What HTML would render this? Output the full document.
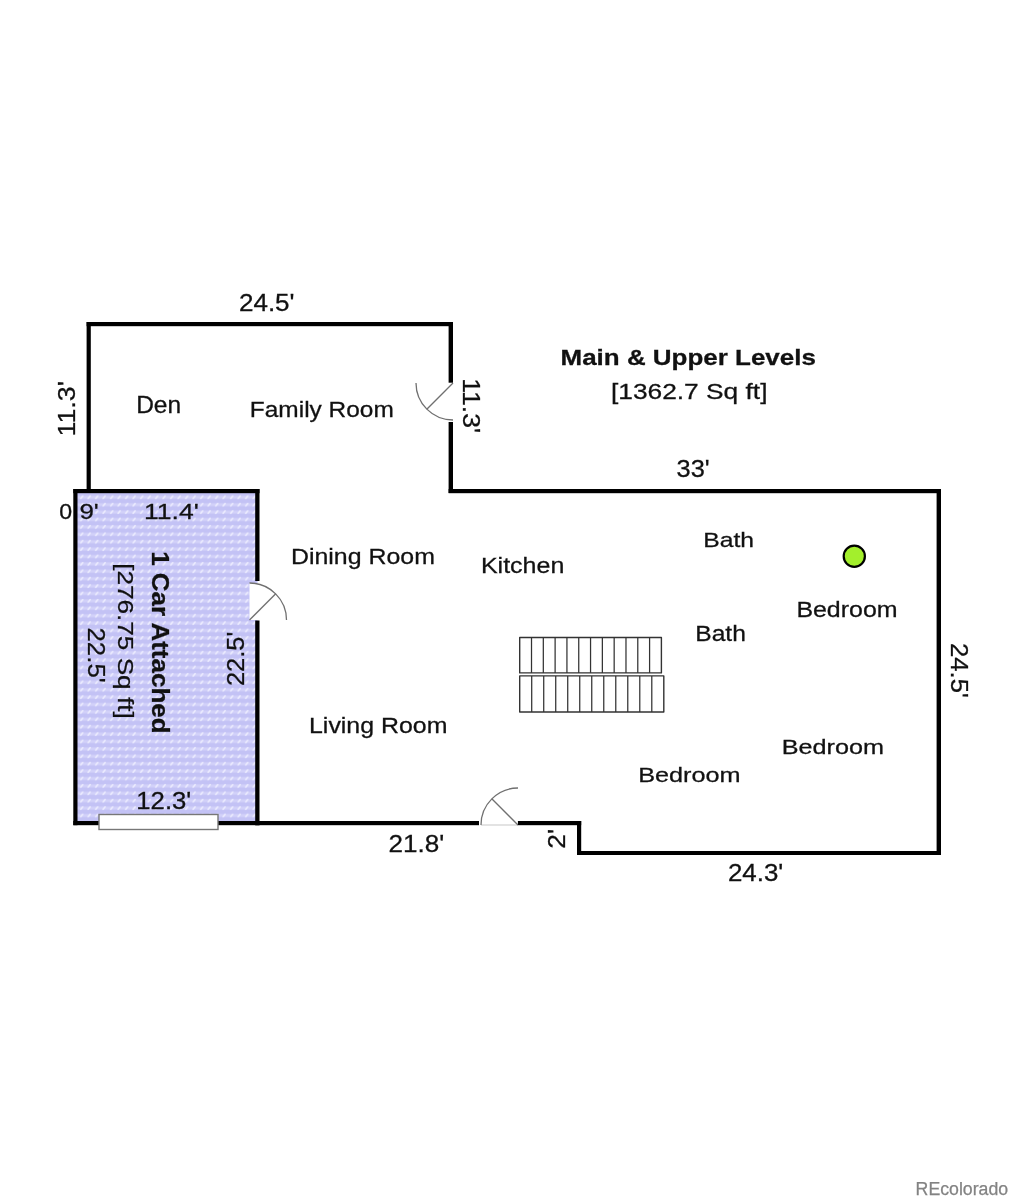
<!DOCTYPE html>
<html><head><meta charset="utf-8"><style>
html,body{margin:0;padding:0;background:#fff;}
svg{display:block;will-change:transform;}
text{font-family:"Liberation Sans", sans-serif;fill:#111;}
</style></head><body>
<svg width="1015" height="1200" viewBox="0 0 1015 1200">
<rect width="1015" height="1200" fill="#fff"/>

<defs>
<pattern id="gp" x="2.95" y="5.2" width="7.5" height="7.4" patternUnits="userSpaceOnUse">
<rect width="7.5" height="7.4" fill="#c3c2f5"/>
<rect y="2.2" width="7.5" height="3" fill="#d2d1f9"/>
<path d="M2.8,4.9 L4.7,2.5" stroke="#eeeeff" stroke-width="1.5" stroke-linecap="round"/>
</pattern>
</defs>
<rect x="75" y="491" width="182.5" height="332" fill="url(#gp)"/>


<path d="M416,383 A37,37 0 0 0 453,420" fill="none" stroke="#707070" stroke-width="1.3"/>
<line x1="453" y1="383" x2="426.8" y2="409.2" stroke="#707070" stroke-width="1.3"/>
<path d="M249.5,620 L249.5,583 A37,37 0 0 1 286.5,620 Z" fill="#fff" stroke="none"/>
<path d="M249.5,583 A37,37 0 0 1 286.5,620" fill="none" stroke="#707070" stroke-width="1.3"/>
<line x1="249.5" y1="620" x2="275.7" y2="593.8" stroke="#707070" stroke-width="1.3"/>
<line x1="481" y1="825" x2="518" y2="825" stroke="#c8c8c8" stroke-width="1.2"/>
<path d="M481,825 A37,37 0 0 1 518,788" fill="none" stroke="#707070" stroke-width="1.3"/>
<line x1="518" y1="825" x2="491.8" y2="798.8" stroke="#707070" stroke-width="1.3"/>

<rect x="519.7" y="637.5" width="141.70" height="35.40" fill="none" stroke="#333" stroke-width="1.4" stroke-linejoin="round"/><line x1="531.51" y1="637.5" x2="531.51" y2="672.9" stroke="#333" stroke-width="1.25"/><line x1="543.32" y1="637.5" x2="543.32" y2="672.9" stroke="#333" stroke-width="1.25"/><line x1="555.12" y1="637.5" x2="555.12" y2="672.9" stroke="#333" stroke-width="1.25"/><line x1="566.93" y1="637.5" x2="566.93" y2="672.9" stroke="#333" stroke-width="1.25"/><line x1="578.74" y1="637.5" x2="578.74" y2="672.9" stroke="#333" stroke-width="1.25"/><line x1="590.55" y1="637.5" x2="590.55" y2="672.9" stroke="#333" stroke-width="1.25"/><line x1="602.36" y1="637.5" x2="602.36" y2="672.9" stroke="#333" stroke-width="1.25"/><line x1="614.17" y1="637.5" x2="614.17" y2="672.9" stroke="#333" stroke-width="1.25"/><line x1="625.98" y1="637.5" x2="625.98" y2="672.9" stroke="#333" stroke-width="1.25"/><line x1="637.78" y1="637.5" x2="637.78" y2="672.9" stroke="#333" stroke-width="1.25"/><line x1="649.59" y1="637.5" x2="649.59" y2="672.9" stroke="#333" stroke-width="1.25"/><rect x="519.7" y="675.9" width="144.10" height="36.10" fill="none" stroke="#333" stroke-width="1.4" stroke-linejoin="round"/><line x1="531.71" y1="675.9" x2="531.71" y2="712" stroke="#333" stroke-width="1.25"/><line x1="543.72" y1="675.9" x2="543.72" y2="712" stroke="#333" stroke-width="1.25"/><line x1="555.73" y1="675.9" x2="555.73" y2="712" stroke="#333" stroke-width="1.25"/><line x1="567.73" y1="675.9" x2="567.73" y2="712" stroke="#333" stroke-width="1.25"/><line x1="579.74" y1="675.9" x2="579.74" y2="712" stroke="#333" stroke-width="1.25"/><line x1="591.75" y1="675.9" x2="591.75" y2="712" stroke="#333" stroke-width="1.25"/><line x1="603.76" y1="675.9" x2="603.76" y2="712" stroke="#333" stroke-width="1.25"/><line x1="615.77" y1="675.9" x2="615.77" y2="712" stroke="#333" stroke-width="1.25"/><line x1="627.77" y1="675.9" x2="627.77" y2="712" stroke="#333" stroke-width="1.25"/><line x1="639.78" y1="675.9" x2="639.78" y2="712" stroke="#333" stroke-width="1.25"/><line x1="651.79" y1="675.9" x2="651.79" y2="712" stroke="#333" stroke-width="1.25"/>
<rect x="86.6" y="322" width="366.40" height="4.20" fill="#000"/><rect x="86.6" y="322" width="4.20" height="169.00" fill="#000"/><rect x="448.6" y="322" width="4.40" height="60.70" fill="#000"/><rect x="448.6" y="422" width="4.40" height="71.00" fill="#000"/><rect x="448.6" y="489" width="492.40" height="4.20" fill="#000"/><rect x="936.6" y="489" width="4.40" height="366.00" fill="#000"/><rect x="577" y="851" width="364.00" height="4.00" fill="#000"/><rect x="577" y="821" width="4.20" height="34.00" fill="#000"/><rect x="255.2" y="821" width="223.80" height="4.20" fill="#000"/><rect x="517.9" y="821" width="63.30" height="4.20" fill="#000"/><rect x="73.3" y="489" width="186.20" height="4.20" fill="#000"/><rect x="73.3" y="489" width="4.20" height="336.20" fill="#000"/><rect x="73.3" y="821" width="186.20" height="4.20" fill="#000"/><rect x="255.2" y="489" width="4.30" height="92.00" fill="#000"/><rect x="255.2" y="620.5" width="4.30" height="204.70" fill="#000"/>
<rect x="99" y="814.5" width="119" height="15" fill="#fff" stroke="#777" stroke-width="1.4"/>
<circle cx="854.3" cy="556.2" r="10.6" fill="#a3ef2c" stroke="#000" stroke-width="2.2"/>
<text x="100" y="200" font-size="100" font-weight="400" stroke="#111" stroke-width="1.208" transform="translate(240.20,310.60) scale(0.26078,0.23571) translate(-105,-200)">24.5'</text>
<text x="100" y="200" font-size="100" font-weight="400" stroke="#111" stroke-width="1.251" transform="translate(138.10,413.10) scale(0.24497,0.23478) translate(-108,-200)">Den</text>
<text x="100" y="200" font-size="100" font-weight="400" stroke="#111" stroke-width="1.306" transform="translate(251.80,417.30) scale(0.24443,0.21507) translate(-108,-200)">Family Room</text>
<text x="100" y="200" font-size="100" font-weight="700" stroke="#111" stroke-width="1.253" transform="translate(562.40,364.80) scale(0.25967,0.21918) translate(-107,-200)">Main &amp; Upper Levels</text>
<text x="100" y="200" font-size="100" font-weight="400" stroke="#111" stroke-width="1.240" transform="translate(612.80,398.60) scale(0.26334,0.22055) translate(-107,-200)">[1362.7 Sq ft]</text>
<text x="100" y="200" font-size="100" font-weight="400" stroke="#111" stroke-width="1.212" transform="translate(677.60,477.20) scale(0.25372,0.24143) translate(-104,-200)">33'</text>
<text x="100" y="200" font-size="100" font-weight="400" stroke="#111" stroke-width="1.317" transform="translate(60.20,519.40) scale(0.23125,0.22429) translate(-104,-200)">0</text>
<text x="100" y="200" font-size="100" font-weight="400" stroke="#111" stroke-width="1.241" transform="translate(80.70,519.40) scale(0.25937,0.22429) translate(-105,-200)">9'</text>
<text x="100" y="200" font-size="100" font-weight="400" stroke="#111" stroke-width="1.217" transform="translate(146.20,519.40) scale(0.26528,0.22754) translate(-108,-200)">11.4'</text>
<text x="100" y="200" font-size="100" font-weight="400" stroke="#111" stroke-width="1.292" transform="translate(292.90,564.40) scale(0.24920,0.21507) translate(-108,-200)">Dining Room</text>
<text x="100" y="200" font-size="100" font-weight="400" stroke="#111" stroke-width="1.267" transform="translate(482.90,572.70) scale(0.25016,0.22329) translate(-108,-200)">Kitchen</text>
<text x="100" y="200" font-size="100" font-weight="400" stroke="#111" stroke-width="1.318" transform="translate(705.20,547.10) scale(0.24712,0.20822) translate(-108,-200)">Bath</text>
<text x="100" y="200" font-size="100" font-weight="400" stroke="#111" stroke-width="1.288" transform="translate(798.40,617.10) scale(0.24936,0.21644) translate(-108,-200)">Bedroom</text>
<text x="100" y="200" font-size="100" font-weight="400" stroke="#111" stroke-width="1.297" transform="translate(697.20,640.90) scale(0.24607,0.21644) translate(-108,-200)">Bath</text>
<text x="100" y="200" font-size="100" font-weight="400" stroke="#111" stroke-width="1.289" transform="translate(311.00,732.60) scale(0.24917,0.21644) translate(-108,-200)">Living Room</text>
<text x="100" y="200" font-size="100" font-weight="400" stroke="#111" stroke-width="1.327" transform="translate(783.70,753.70) scale(0.25217,0.20000) translate(-108,-200)">Bedroom</text>
<text x="100" y="200" font-size="100" font-weight="400" stroke="#111" stroke-width="1.326" transform="translate(640.20,781.90) scale(0.25243,0.20000) translate(-108,-200)">Bedroom</text>
<text x="100" y="200" font-size="100" font-weight="400" stroke="#111" stroke-width="1.215" transform="translate(138.40,809.20) scale(0.25672,0.23714) translate(-108,-200)">12.3'</text>
<text x="100" y="200" font-size="100" font-weight="400" stroke="#111" stroke-width="1.195" transform="translate(389.90,851.80) scale(0.26078,0.24143) translate(-105,-200)">21.8'</text>
<text x="100" y="200" font-size="100" font-weight="400" stroke="#111" stroke-width="1.213" transform="translate(729.20,881.40) scale(0.25882,0.23571) translate(-105,-200)">24.3'</text>
<text x="100" y="200" font-size="100" font-weight="400" stroke="#111" stroke-width="1.175" transform="translate(75.10,434.30) rotate(-90) scale(0.26788,0.24286) translate(-108,-200)">11.3'</text>
<text x="100" y="200" font-size="100" font-weight="400" stroke="#111" stroke-width="1.199" transform="translate(243.60,684.80) rotate(-90) scale(0.25490,0.24571) translate(-105,-200)">22.5'</text>
<text x="100" y="200" font-size="100" font-weight="400" stroke="#111" stroke-width="1.180" transform="translate(565.40,847.30) rotate(-90) scale(0.26406,0.24429) translate(-105,-200)">2'</text>
<text x="100" y="200" font-size="100" font-weight="400" stroke="#111" stroke-width="1.178" transform="translate(463.00,380.30) rotate(90) scale(0.26632,0.24286) translate(-108,-200)">11.3'</text>
<text x="100" y="200" font-size="100" font-weight="400" stroke="#111" stroke-width="1.201" transform="translate(951.00,644.30) rotate(90) scale(0.25686,0.24286) translate(-105,-200)">24.5'</text>
<text x="100" y="200" font-size="100" font-weight="700" stroke="#111" stroke-width="1.201" transform="translate(151.70,552.70) rotate(90) scale(0.25994,0.23973) translate(-106,-200)">1 Car Attached</text>
<text x="100" y="200" font-size="100" font-weight="400" stroke="#111" stroke-width="1.227" transform="translate(118.10,565.00) rotate(90) scale(0.26162,0.22740) translate(-107,-200)">[276.75 Sq ft]</text>
<text x="100" y="200" font-size="100" font-weight="400" stroke="#111" stroke-width="1.199" transform="translate(88.10,628.75) rotate(90) scale(0.25907,0.24143) translate(-105,-200)">22.5'</text>
<text x="915.6" y="1194.6" font-size="17.6" style="fill:#838383" stroke="#838383" stroke-width="0.25" textLength="92.6" lengthAdjust="spacingAndGlyphs">REcolorado</text>
</svg>
</body></html>
